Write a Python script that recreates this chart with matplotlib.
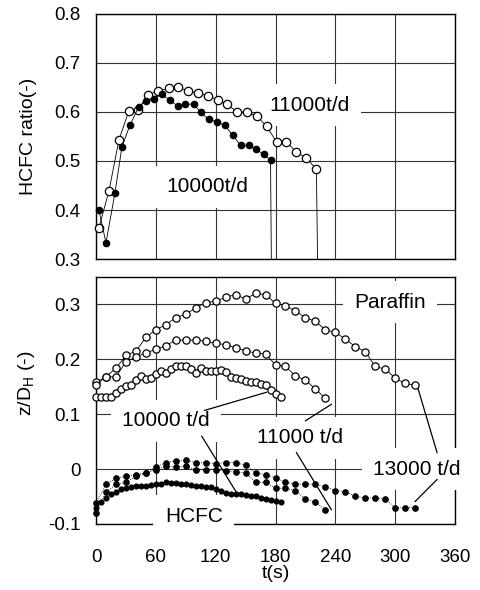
import matplotlib
matplotlib.use("Agg")
import matplotlib.pyplot as plt

plt.rcParams['font.family'] = ['Liberation Sans', 'DejaVu Sans']

# ---------------- data: top panel (HCFC ratio) ----------------
t_r11 = [3, 13, 23, 33, 42, 52, 62, 73, 82, 92, 102, 112, 122, 131, 141, 151,
         161, 171, 181, 191, 201, 211, 221]
r11 = [0.364, 0.439, 0.543, 0.603, 0.604, 0.635, 0.643, 0.648, 0.651, 0.643,
       0.639, 0.633, 0.625, 0.616, 0.601, 0.599, 0.592, 0.571, 0.539, 0.539,
       0.518, 0.506, 0.483]
t_r11_end = 224
t_r10 = [3, 10, 19, 26, 34, 43, 50, 58, 66, 74, 82, 89, 98, 105, 113, 121,
         129, 137, 145, 153, 160, 168, 175]
r10 = [0.399, 0.333, 0.435, 0.529, 0.573, 0.611, 0.622, 0.627, 0.636, 0.624,
       0.612, 0.616, 0.616, 0.599, 0.585, 0.580, 0.573, 0.553, 0.532, 0.532,
       0.524, 0.514, 0.502]
t_r10_end = 177
r_end = 0.0

# ---------------- data: bottom panel (z/DH) ----------------
t10 = list(range(0, 186, 5))
p10 = [0.132, 0.132, 0.132, 0.132, 0.138, 0.146, 0.152, 0.154, 0.162, 0.169,
       0.164, 0.166, 0.173, 0.179, 0.176, 0.182, 0.188, 0.188, 0.187, 0.182,
       0.176, 0.184, 0.179, 0.178, 0.179, 0.180, 0.177, 0.168, 0.166, 0.164,
       0.161, 0.158, 0.158, 0.155, 0.154, 0.144, 0.137, 0.132]
h10 = [-0.070, -0.060, -0.052, -0.046, -0.041, -0.037, -0.034, -0.032, -0.030,
       -0.030, -0.030, -0.029, -0.028, -0.027, -0.024, -0.025, -0.026, -0.027,
       -0.028, -0.029, -0.030, -0.031, -0.032, -0.033, -0.037, -0.040, -0.043,
       -0.045, -0.045, -0.046, -0.048, -0.049, -0.049, -0.052, -0.054, -0.057,
       -0.059, -0.060]
t11 = list(range(0, 231, 10))
p11 = [0.154, 0.168, 0.168, 0.196, 0.204, 0.212, 0.218, 0.225, 0.235, 0.235,
       0.235, 0.233, 0.229, 0.227, 0.221, 0.216, 0.211, 0.210, 0.190, 0.187,
       0.170, 0.162, 0.146, 0.129]
h11 = [-0.080, -0.042, -0.028, -0.024, -0.013, -0.008, -0.001, 0.005, 0.004,
       0.005, -0.001, -0.001, -0.001, -0.004, -0.005, -0.007, -0.024, -0.024,
       -0.035, -0.035, -0.039, -0.055, -0.060, -0.074]
t13 = list(range(0, 321, 10))
p13 = [0.158, 0.168, 0.184, 0.207, 0.215, 0.240, 0.254, 0.263, 0.276, 0.282,
       0.294, 0.303, 0.306, 0.313, 0.318, 0.310, 0.320, 0.318, 0.302, 0.298,
       0.288, 0.276, 0.269, 0.254, 0.249, 0.237, 0.223, 0.214, 0.187, 0.182,
       0.166, 0.156, 0.153]
h13 = [-0.062, -0.027, -0.017, -0.013, -0.010, -0.007, 0.004, 0.012, 0.015,
       0.016, 0.012, 0.012, 0.010, 0.012, 0.012, 0.007, -0.007, -0.010, -0.016,
       -0.024, -0.028, -0.027, -0.028, -0.032, -0.039, -0.041, -0.049, -0.053,
       -0.052, -0.055, -0.070, -0.070, -0.070]

xticks = [0, 60, 120, 180, 240, 300, 360]
yticks_top = [0.3, 0.4, 0.5, 0.6, 0.7, 0.8]
yticks_top_lbl = ['0.3', '0.4', '0.5', '0.6', '0.7', '0.8']
yticks_bot = [-0.1, 0.0, 0.1, 0.2, 0.3]
yticks_bot_lbl = ['-0.1', '0', '0.1', '0.2', '0.3']

# ---------------- figure ----------------
fig = plt.figure(figsize=(4.81, 5.90), dpi=100)
ax1 = fig.add_axes([0.1996, 0.561, 0.7464, 0.4153])
ax2 = fig.add_axes([0.1996, 0.1119, 0.7464, 0.4186])

open_kw = dict(marker='o', mfc='white', mec='black', mew=0.9, color='black',
               lw=0.6, zorder=5, clip_on=False)
fill_kw = dict(marker='o', mfc='black', mec='black', color='black', lw=0.6,
               zorder=5, clip_on=False)
box = dict(boxstyle='square,pad=0.55', fc='white', ec='none')
tfs = 15

for ax in (ax1, ax2):
    ax.set_xlim(0, 360)
    ax.set_xticks(xticks)
    ax.set_axisbelow(True)
    ax.grid(True, color='0.2', lw=0.8)
    ax.tick_params(length=0, labelsize=13.5)
    for s in ax.spines.values():
        s.set_linewidth(1.0)
        s.set_color('black')

# top panel
ax1.set_ylim(0.3, 0.8)
ax1.set_yticks(yticks_top)
ax1.set_yticklabels(yticks_top_lbl)
ax1.tick_params(axis='y', pad=11)
ax1.tick_params(axis='x', labelbottom=False)
ax1.plot(t_r11, r11, ms=6.0, **open_kw)
ax1.plot(t_r10, r10, ms=4.5, **fill_kw)
ax1.plot([t_r11[-1], t_r11_end], [r11[-1], r_end], color='black', lw=0.6, zorder=4)
ax1.plot([t_r10[-1], t_r10_end], [r10[-1], r_end], color='black', lw=0.6, zorder=4)
ax1.text(214, 0.614, '11000t/d', fontsize=tfs, ha='center', va='center', bbox=box, zorder=3)
ax1.text(112, 0.447, '10000t/d', fontsize=tfs, ha='center', va='center', bbox=box, zorder=3)
ax1.set_ylabel('HCFC ratio(-)', fontsize=14)
ax1.yaxis.set_label_coords(-0.165, 0.5)

# bottom panel
ax2.set_ylim(-0.1, 0.35)
ax2.set_yticks(yticks_bot)
ax2.set_yticklabels(yticks_bot_lbl)
ax2.tick_params(axis='y', pad=11)
ax2.tick_params(axis='x', pad=18)
ax2.plot(t13, p13, ms=5.2, **open_kw)
ax2.plot(t11, p11, ms=5.2, **open_kw)
ax2.plot(t10, p10, ms=5.2, **open_kw)
dot_kw = dict(fill_kw)
dot_kw['ls'] = ':'
ax2.plot(t13, h13, ms=3.8, **dot_kw)
ax2.plot(t11, h11, ms=3.8, **dot_kw)
ax2.plot(t10, h10, ms=3.4, **dot_kw)

ax2.text(295, 0.304, 'Paraffin', fontsize=tfs, ha='center', va='center', bbox=box, zorder=3)
ax2.text(70, 0.088, '10000 t/d', fontsize=tfs, ha='center', va='center', bbox=box, zorder=3)
ax2.text(205, 0.057, '11000 t/d', fontsize=tfs, ha='center', va='center', bbox=box, zorder=3)
ax2.text(322, 0.0, '13000 t/d', fontsize=tfs, ha='center', va='center', bbox=box, zorder=3)
ax2.text(98, -0.086, 'HCFC', fontsize=tfs, ha='center', va='center', bbox=box, zorder=3)

lk = dict(color='black', lw=0.9, zorder=4.5, clip_on=False)
ax2.plot([109, 171], [0.107, 0.140], **lk)
ax2.plot([106, 141], [0.060, -0.043], **lk)
ax2.plot([210, 236], [0.088, 0.118], **lk)
ax2.plot([201, 236], [0.030, -0.074], **lk)
ax2.plot([342, 322], [0.030, 0.152], **lk)
ax2.plot([320, 342], [-0.059, -0.019], **lk)

ax2.set_ylabel(r'z/D$_\mathregular{H}$ (-)', fontsize=14)
ax2.yaxis.set_label_coords(-0.165, 0.57)
ax2.set_xlabel('t(s)', fontsize=14)
ax2.xaxis.set_label_coords(0.5, -0.165)

fig.savefig('out.png', dpi=100)
